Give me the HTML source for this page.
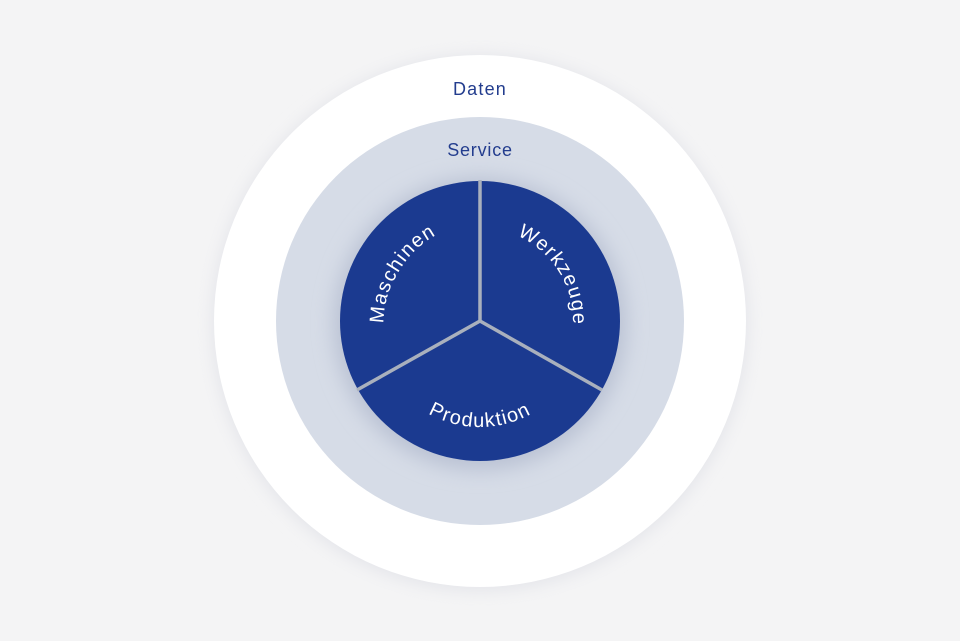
<!DOCTYPE html>
<html><head><meta charset="utf-8"><style>
html,body{margin:0;padding:0;background:#f4f4f5;}
svg{display:block}
text{font-family:"Liberation Sans","DejaVu Sans",sans-serif;}
</style></head><body>
<svg width="960" height="641" viewBox="0 0 960 641">
<defs>
<filter id="s1" x="-20%" y="-20%" width="140%" height="140%"><feGaussianBlur stdDeviation="8"/></filter>
<filter id="s2" x="-20%" y="-20%" width="140%" height="140%"><feGaussianBlur stdDeviation="10"/></filter>
<path id="pm" d="M561.4,369.9 A95,95 0 1 1 398.6,272.1 A95,95 0 1 1 561.4,369.9"/>
<path id="pw" d="M401.1,370.3 A93,93 0 1 1 558.9,271.7 A93,93 0 1 1 401.1,370.3"/>
<path id="pp" d="M480,215 A106,106 0 1 0 480,427 A106,106 0 1 0 480,215"/>
</defs>
<rect width="960" height="641" fill="#f4f4f5"/>
<circle cx="480" cy="323" r="268" fill="#e4e5ea" filter="url(#s1)"/>
<circle cx="480" cy="321" r="266" fill="#ffffff"/>
<circle cx="480" cy="321" r="204" fill="#d6dce7"/>
<circle cx="480" cy="324" r="146" fill="#b9c1d3" filter="url(#s2)"/>
<circle cx="480" cy="321" r="140" fill="#1b3a90"/>
<g stroke="#a9b0bd" stroke-width="3.5" fill="none">
<line x1="480" y1="321" x2="480" y2="180"/>
<line x1="480" y1="321" x2="357" y2="390"/>
<line x1="480" y1="321" x2="602" y2="390"/>
</g>
<text x="480" y="95" text-anchor="middle" font-size="18" letter-spacing="1.2" fill="#233d8e">Daten</text>
<text x="480" y="156" text-anchor="middle" font-size="18" letter-spacing="0.8" fill="#233d8e">Service</text>
<g font-size="20" letter-spacing="1.3" fill="#ffffff">
<text><textPath href="#pm" startOffset="50%" text-anchor="middle">Maschinen</textPath></text>
<text><textPath href="#pw" startOffset="50%" text-anchor="middle">Werkzeuge</textPath></text>
<text><textPath href="#pp" startOffset="50%" text-anchor="middle">Produktion</textPath></text>
</g>
</svg>
</body></html>
